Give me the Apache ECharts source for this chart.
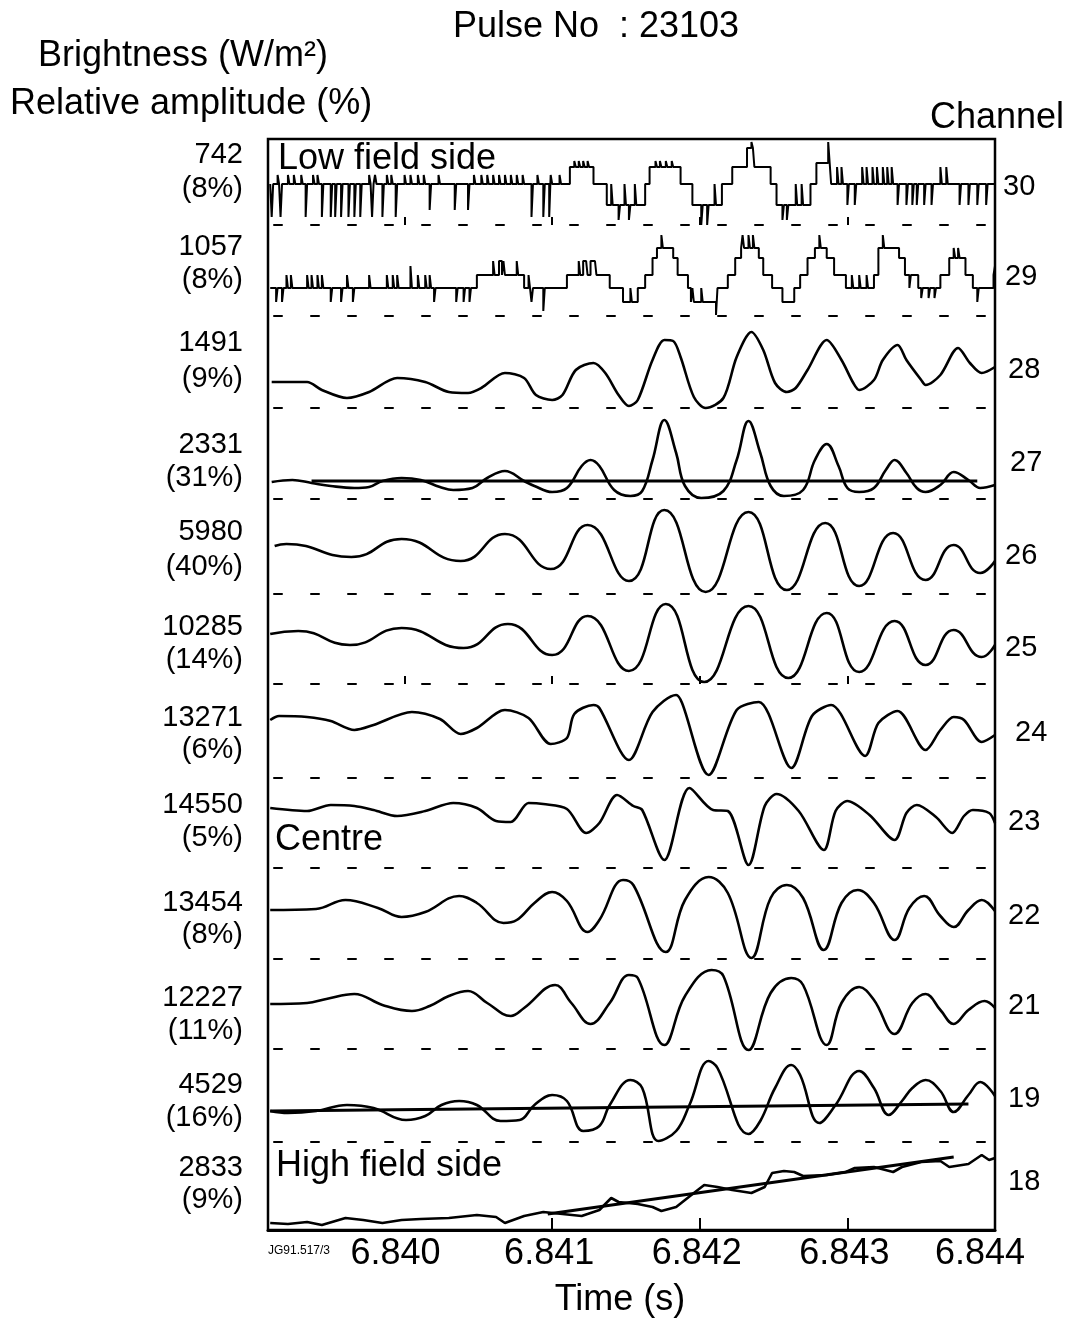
<!DOCTYPE html>
<html><head><meta charset="utf-8">
<script src="https://cdn.jsdelivr.net/npm/echarts@6/dist/echarts.min.js"></script>
<style>html,body{margin:0;padding:0;background:#fff}#c{width:1077px;height:1322px}</style>
</head><body><div id="c"></div>
<script>
// ---------------- DATA ----------------
const T0 = 6.840; // s ; trace times below are in ms after T0
const channels = ['30','29','28','27','26','25','24','23','22','21','19','18'];
const brightness = ['742','1057','1491','2331','5980','10285','13271','14550','13454','12227','4529','2833'];
const amplitude = ['(8%)','(8%)','(9%)','(31%)','(40%)','(14%)','(6%)','(5%)','(8%)','(11%)','(16%)','(9%)'];
const timeTickLabels = [6.840, 6.841, 6.842, 6.843, 6.844];
const timeTicks = [6.841, 6.842, 6.843];
const refTicks = [6.840, 6.841, 6.842, 6.843];

const ch30 = [[-0.91,41],[-0.90,8],[-0.89,41],[-0.86,50],[-0.85,41],[-0.84,8],[-0.83,41],[-0.79,50],[-0.78,41],[-0.75,50],[-0.74,41],[-0.70,50],[-0.69,41],[-0.67,8],[-0.66,41],[-0.62,50],[-0.61,41],[-0.59,50],[-0.58,41],[-0.56,8],[-0.55,41],[-0.50,8],[-0.49,41],[-0.47,8],[-0.46,41],[-0.43,8],[-0.42,41],[-0.38,8],[-0.37,41],[-0.34,8],[-0.33,41],[-0.30,8],[-0.29,41],[-0.24,50],[-0.23,41],[-0.22,8],[-0.21,41],[-0.20,50],[-0.19,41],[-0.15,8],[-0.14,41],[-0.12,50],[-0.11,41],[-0.09,50],[-0.08,41],[-0.06,8],[-0.05,41],[0.00,50],[0.01,41],[0.04,50],[0.05,41],[0.09,50],[0.10,41],[0.13,50],[0.14,41],[0.17,15],[0.18,41],[0.23,50],[0.24,41],[0.34,15],[0.35,41],[0.43,15],[0.44,41],[0.47,50],[0.48,41],[0.52,50],[0.53,41],[0.56,50],[0.57,41],[0.60,50],[0.61,41],[0.64,50],[0.65,41],[0.68,50],[0.69,41],[0.72,50],[0.73,41],[0.76,50],[0.77,41],[0.80,50],[0.81,41],[0.86,8],[0.87,41],[0.90,50],[0.91,41],[0.94,8],[0.95,41],[0.98,8],[0.99,50],[1.00,41],[1.05,50],[1.06,41],[1.12,58],[1.15,64],[1.16,58],[1.18,64],[1.19,58],[1.21,64],[1.22,58],[1.24,64],[1.25,58],[1.28,41],[1.37,20],[1.40,41],[1.41,20],[1.45,5],[1.46,20],[1.49,41],[1.50,20],[1.52,5],[1.53,20],[1.56,41],[1.57,20],[1.63,41],[1.66,58],[1.70,64],[1.71,58],[1.73,64],[1.74,58],[1.77,64],[1.78,58],[1.81,64],[1.82,58],[1.87,41],[1.95,20],[2.01,0],[2.02,20],[2.05,0],[2.06,20],[2.10,41],[2.11,20],[2.15,41],[2.22,58],[2.32,77],[2.35,83],[2.36,77],[2.37,58],[2.48,41],[2.52,20],[2.56,5],[2.57,20],[2.59,5],[2.60,20],[2.65,41],[2.66,20],[2.69,41],[2.70,20],[2.75,41],[2.79,62],[2.87,83],[2.88,62],[2.89,41],[2.93,58],[2.94,41],[2.96,58],[2.97,41],[3.00,20],[3.01,41],[3.05,20],[3.06,41],[3.10,58],[3.11,41],[3.13,58],[3.14,41],[3.17,58],[3.18,41],[3.20,58],[3.21,41],[3.24,58],[3.25,41],[3.27,58],[3.28,41],[3.30,58],[3.31,41],[3.34,20],[3.35,41],[3.40,20],[3.41,41],[3.44,20],[3.45,41],[3.47,20],[3.48,41],[3.52,20],[3.53,41],[3.57,20],[3.58,41],[3.63,58],[3.64,41],[3.67,58],[3.68,41],[3.76,20],[3.77,41],[3.82,20],[3.83,41],[3.88,20],[3.89,41],[3.94,20],[3.95,41],[4.00,41]];

const ch29 = [[-0.91,28],[-0.87,14],[-0.86,28],[-0.83,14],[-0.82,28],[-0.80,41],[-0.79,28],[-0.77,41],[-0.76,28],[-0.66,41],[-0.65,28],[-0.63,41],[-0.62,28],[-0.59,41],[-0.58,28],[-0.56,41],[-0.55,28],[-0.50,14],[-0.49,28],[-0.43,14],[-0.42,28],[-0.39,41],[-0.38,28],[-0.35,14],[-0.34,28],[-0.24,41],[-0.23,28],[-0.12,41],[-0.11,28],[-0.08,41],[-0.07,28],[-0.05,41],[-0.04,28],[0.04,50],[0.05,28],[0.09,41],[0.10,28],[0.14,41],[0.15,28],[0.17,41],[0.18,28],[0.20,14],[0.21,28],[0.35,14],[0.36,28],[0.40,14],[0.41,28],[0.44,14],[0.45,28],[0.49,41],[0.60,55],[0.61,41],[0.64,55],[0.66,41],[0.67,55],[0.68,41],[0.76,55],[0.77,41],[0.81,28],[0.84,41],[0.85,28],[0.86,14],[0.87,28],[0.94,5],[0.95,28],[1.10,41],[1.18,55],[1.19,41],[1.21,55],[1.23,55],[1.24,41],[1.26,55],[1.29,55],[1.30,41],[1.39,28],[1.48,14],[1.53,28],[1.54,14],[1.58,28],[1.63,41],[1.68,58],[1.71,68],[1.74,81],[1.75,68],[1.82,58],[1.85,41],[1.92,28],[1.94,14],[1.95,28],[1.96,14],[2.01,28],[2.02,14],[2.11,1],[2.12,28],[2.19,41],[2.24,58],[2.28,68],[2.29,81],[2.30,68],[2.33,81],[2.34,68],[2.36,81],[2.37,68],[2.40,58],[2.43,41],[2.49,28],[2.56,14],[2.64,28],[2.68,41],[2.73,58],[2.78,68],[2.81,81],[2.82,68],[2.86,58],[2.91,41],[2.99,28],[3.03,41],[3.04,28],[3.08,41],[3.09,28],[3.13,41],[3.14,28],[3.18,41],[3.21,68],[3.24,81],[3.25,68],[3.35,58],[3.39,41],[3.42,28],[3.43,41],[3.48,28],[3.50,18],[3.51,28],[3.55,18],[3.56,28],[3.59,18],[3.60,28],[3.63,41],[3.69,58],[3.72,68],[3.73,58],[3.75,68],[3.76,58],[3.80,41],[3.85,28],[3.88,14],[3.89,28],[3.99,41],[4.00,50]];

const ch28 = [[-0.90,26],[-0.79,26],[-0.66,26],[-0.56,18],[-0.39,10],[-0.24,16],[-0.05,30],[0.14,26],[0.30,16],[0.43,15],[0.52,20],[0.68,35],[0.81,30],[0.89,13],[1.00,8],[1.07,13],[1.16,38],[1.28,45],[1.36,35],[1.45,13],[1.52,2],[1.58,8],[1.68,48],[1.76,68],[1.82,67],[1.87,51],[1.96,11],[2.04,0],[2.16,10],[2.25,51],[2.35,76],[2.43,58],[2.51,25],[2.59,16],[2.65,20],[2.73,38],[2.86,68],[2.96,48],[3.04,25],[3.08,18],[3.18,28],[3.24,48],[3.34,63],[3.40,48],[3.50,28],[3.53,23],[3.63,33],[3.75,60],[3.83,45],[3.91,35],[4.00,41]];

const ch27 = [[-0.90,17],[-0.76,19],[-0.63,16],[-0.50,13],[-0.34,11],[-0.24,12],[-0.15,18],[-0.02,21],[0.11,19],[0.24,12],[0.33,9],[0.46,11],[0.56,21],[0.68,28],[0.81,18],[0.88,13],[1.00,7],[1.10,11],[1.20,33],[1.26,39],[1.32,33],[1.42,9],[1.53,3],[1.61,8],[1.68,39],[1.76,79],[1.84,46],[1.90,13],[2.01,1],[2.16,8],[2.25,39],[2.33,78],[2.41,46],[2.48,13],[2.57,3],[2.70,9],[2.78,39],[2.86,55],[2.94,33],[3.00,11],[3.08,7],[3.18,11],[3.26,29],[3.32,39],[3.40,26],[3.47,11],[3.53,7],[3.63,14],[3.72,27],[3.82,19],[3.90,11],[4.00,14]];
const ch27Ref = [[-0.63,18],[3.88,18]];

const ch26 = [[-0.88,48],[-0.80,50],[-0.36,37],[-0.02,55],[0.38,33],[0.68,60],[0.99,25],[1.24,69],[1.52,13],[1.76,84],[2.04,2],[2.33,82],[2.59,4],[2.85,71],[3.08,8],[3.31,61],[3.53,14],[3.72,49],[3.90,21],[4.00,33]];

const ch25 = [[-0.91,50],[-0.72,53],[-0.37,39],[-0.02,56],[0.40,36],[0.70,60],[1.00,29],[1.24,68],[1.52,13],[1.77,80],[2.03,2],[2.33,78],[2.60,6],[2.86,71],[3.08,12],[3.32,63],[3.53,19],[3.72,54],[3.91,27],[4.00,39]];

const ch24 = [[-0.91,58],[-0.85,62],[-0.66,61],[-0.50,57],[-0.34,48],[-0.21,53],[0.05,66],[0.24,59],[0.38,44],[0.49,50],[0.68,68],[0.84,60],[0.99,34],[1.10,40],[1.15,64],[1.28,73],[1.32,70],[1.52,18],[1.68,66],[1.84,83],[1.88,75],[2.06,3],[2.25,68],[2.40,76],[2.62,10],[2.76,62],[2.89,73],[3.12,22],[3.21,55],[3.34,67],[3.53,28],[3.63,48],[3.72,61],[3.79,58],[3.91,36],[4.00,43]];

const ch23 = [[-0.91,60],[-0.66,57],[-0.50,63],[-0.34,62],[-0.21,58],[-0.05,52],[0.14,57],[0.33,65],[0.49,60],[0.62,47],[0.72,46],[0.84,65],[0.94,64],[1.10,59],[1.23,35],[1.32,45],[1.44,73],[1.55,62],[1.61,58],[1.76,8],[1.93,80],[2.09,58],[2.19,57],[2.33,3],[2.44,62],[2.52,74],[2.67,57],[2.84,18],[2.92,57],[3.00,67],[3.15,53],[3.32,28],[3.40,55],[3.47,63],[3.60,51],[3.71,35],[3.79,52],[3.85,58],[3.96,55],[4.00,45]];

const ch22 = [[-0.91,49],[-0.60,50],[-0.40,59],[-0.18,51],[-0.02,42],[0.14,47],[0.37,63],[0.49,56],[0.67,36],[0.76,39],[0.88,56],[1.00,67],[1.10,58],[1.24,27],[1.32,39],[1.48,79],[1.55,74],[1.77,7],[1.90,59],[2.06,82],[2.19,66],[2.35,1],[2.48,61],[2.59,74],[2.70,61],[2.84,9],[2.96,56],[3.07,69],[3.18,56],[3.32,19],[3.42,51],[3.52,63],[3.63,43],[3.72,32],[3.82,49],[3.91,59],[4.00,48]];

const ch21 = [[-0.91,45],[-0.66,46],[-0.53,50],[-0.34,55],[-0.15,44],[0.05,38],[0.17,43],[0.30,53],[0.43,58],[0.56,46],[0.72,33],[0.81,41],[1.02,64],[1.13,46],[1.26,25],[1.39,46],[1.52,74],[1.58,71],[1.76,4],[1.90,53],[2.08,79],[2.16,73],[2.33,-1],[2.48,56],[2.62,71],[2.70,64],[2.86,4],[2.96,46],[3.08,62],[3.18,49],[3.32,15],[3.44,46],[3.53,55],[3.63,39],[3.72,25],[3.82,39],[3.93,48],[4.00,41]];

const ch19 = [[-0.91,31],[-0.79,29],[-0.60,31],[-0.39,37],[-0.21,34],[0.01,22],[0.14,26],[0.25,37],[0.37,41],[0.49,37],[0.65,21],[0.78,22],[0.88,37],[1.00,47],[1.10,41],[1.21,11],[1.32,16],[1.39,37],[1.53,62],[1.61,54],[1.72,1],[1.84,11],[1.93,37],[2.06,81],[2.12,74],[2.33,8],[2.41,21],[2.51,54],[2.62,77],[2.68,67],[2.81,19],[2.92,37],[3.08,71],[3.18,54],[3.28,27],[3.37,41],[3.44,54],[3.53,62],[3.63,51],[3.72,30],[3.82,47],[3.90,60],[4.00,46]];
const ch19Ref = [[-0.91,31],[3.82,38]];

const ch18 = [[-0.91,7],[-0.79,6],[-0.66,8],[-0.56,5],[-0.40,12],[-0.28,10],[-0.15,7],[-0.02,10],[0.11,11],[0.30,12],[0.49,15],[0.62,13],[0.68,7],[0.81,14],[0.94,18],[1.07,16],[1.20,14],[1.32,20],[1.40,32],[1.45,28],[1.58,26],[1.68,23],[1.74,19],[1.84,23],[1.90,30],[1.96,37],[2.03,45],[2.12,43],[2.22,40],[2.35,37],[2.44,43],[2.49,57],[2.57,59],[2.64,58],[2.70,54],[2.86,55],[2.99,58],[3.05,62],[3.18,63],[3.31,58],[3.37,63],[3.50,68],[3.63,69],[3.69,63],[3.82,66],[3.91,75],[3.96,70],[4.00,72]];
const ch18Ref = [[0.97,16],[3.72,73]];

// ---------------- LAYOUT ----------------
const FONT = '"Liberation Sans", Arial, Helvetica, sans-serif';
const L = 268, W = 727, TOP = 139, BOTTOM = 1230;
const PH = 90;
const panelBottom = [225,316,408,499,594,684,778,868,959,1049,1142,1230];
const leftLabelY = [[155,189],[247,280],[343,379],[445,478],[532,567],[627,660],[718,750],[805,838],[903,935],[998,1031],[1085,1118],[1168,1200]];
const chanPos = [[1003,187],[1005,277],[1008,370],[1010,463],[1005,556],[1005,648],[1015,733],[1008,822],[1008,916],[1008,1006],[1008,1099],[1008,1182]];
const XMIN = 6.839075, XMAX = 6.844;

const traces = [ch30,ch29,ch28,ch27,ch26,ch25,ch24,ch23,ch22,ch21,ch19,ch18];
const refs = {3: ch27Ref, 10: ch19Ref, 11: ch18Ref};
const smoothness = [0,0,0.3,0.4,0.5,0.5,0.3,0.3,0.4,0.4,0.4,0];
const toSec = arr => arr.map(p => [T0 + p[0]/1000, p[1]]);

const grid = [{left:L, top:TOP, width:W, height:BOTTOM-TOP, show:true, borderColor:'#000', borderWidth:2.5, backgroundColor:'rgba(0,0,0,0)'}];
const xAxis = [{
  gridIndex:0, type:'value', min:XMIN, max:XMAX,
  axisLine:{lineStyle:{color:'#000', width:3}},
  axisTick:{inside:true, length:12, customValues: timeTicks, lineStyle:{color:'#000', width:2}},
  axisLabel:{
    customValues: timeTickLabels, margin:6, color:'#000', fontSize:36, fontFamily:FONT,
    formatter: v => { const s = v.toFixed(3); if (s === '6.840') return '{l|'+s+'}'; if (s === '6.844') return '{r|'+s+'}'; return '{n|'+s+'}'; },
    rich:{
      l:{fontSize:36, fontFamily:FONT, color:'#000', padding:[0,18,0,0]},
      r:{fontSize:36, fontFamily:FONT, color:'#000', padding:[0,30,0,0]},
      n:{fontSize:36, fontFamily:FONT, color:'#000', padding:[0,6,0,0]}
    }
  },
  splitLine:{show:false}
}];
const yAxis = [{gridIndex:0, type:'value', min:0, max:1, show:false}];
const series = [];

traces.forEach((tr, i) => {
  const gi = i + 1;
  grid.push({left:L, width:W, top:panelBottom[i]-PH, height:PH});
  xAxis.push({
    gridIndex:gi, type:'value', min:XMIN, max:XMAX,
    axisLine:{show: i < 11, lineStyle:{color:'#000', width:2, type:[8,29], dashOffset:-6}},
    axisTick:{show: (i === 0 || i === 5), customValues: refTicks, inside:true, length:8, lineStyle:{color:'#000', width:2}},
    axisLabel:{show:false}, splitLine:{show:false}
  });
  yAxis.push({gridIndex:gi, type:'value', min:0, max:PH, show:false});
  series.push({
    type:'line', xAxisIndex:gi, yAxisIndex:gi, data: toSec(tr),
    symbol:'none', smooth: smoothness[i] || false, step: (i < 2) ? 'end' : false,
    lineStyle:{color:'#000', width: (i < 2) ? 2 : 2.6}, clip:false, silent:true
  });
  if (refs[i]) {
    series.push({
      type:'line', xAxisIndex:gi, yAxisIndex:gi, data: toSec(refs[i]),
      symbol:'none', lineStyle:{color:'#000', width:2.8}, clip:false, silent:true
    });
  }
});

function txt(x, y, text, size, align) {
  return {type:'text', x:x, y:y, silent:true, style:{text:text, x:0, y:0, fill:'#000', font: size + 'px ' + FONT,
    align: align || 'left', verticalAlign:'middle', textAlign: align || 'left', textVerticalAlign:'middle'}};
}
const graphics = [
  txt(596, 27, 'Pulse No  : 23103', 36, 'center'),
  txt(38, 56, 'Brightness (W/m\u00B2)', 36, 'left'),
  txt(10, 104, 'Relative amplitude (%)', 36, 'left'),
  txt(930, 118, 'Channel', 36, 'left'),
  txt(278, 159, 'Low field side', 36, 'left'),
  txt(275, 840, 'Centre', 36, 'left'),
  txt(276, 1166, 'High field side', 36, 'left'),
  txt(268, 1251, 'JG91.517/3', 12, 'left'),
  txt(620, 1300, 'Time (s)', 36, 'center')
];
brightness.forEach((b, i) => {
  graphics.push(txt(243, leftLabelY[i][0], b, 29, 'right'));
  graphics.push(txt(243, leftLabelY[i][1], amplitude[i], 29, 'right'));
});
channels.forEach((c, i) => {
  graphics.push(txt(chanPos[i][0], chanPos[i][1], c, 29, 'left'));
});

const chart = echarts.init(document.getElementById('c'), null, {renderer:'canvas'});
chart.setOption({
  backgroundColor:'#fff', animation:false,
  grid: grid, xAxis: xAxis, yAxis: yAxis, series: series,
  graphic: {elements: graphics}
});
</script>
</body></html>
